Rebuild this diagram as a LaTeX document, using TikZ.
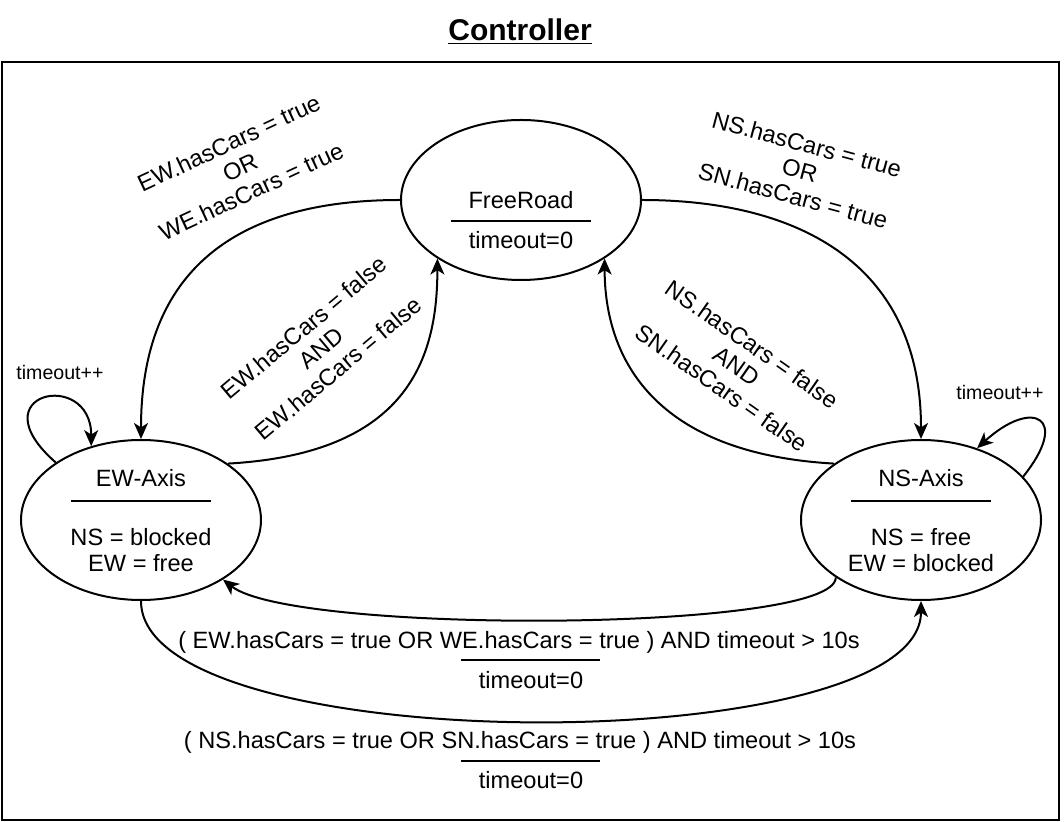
\documentclass[tikz,border=0pt]{standalone}
\usepackage{fontspec}
\setmainfont{Liberation Sans}
\usetikzlibrary{calc,arrows.meta,shapes}

\tikzset{
  state/.style={ellipse, draw, line width=1pt, minimum width=120pt, minimum height=80pt, inner sep=0pt},
  trans/.style={line width=1pt, ->},
  cond/.style={align=center},
  sepline/.style={line width=1pt},
  small/.style={font=\fontsize{9.8}{12}\selectfont}
}

\begin{document}
\begin{tikzpicture}[>={Stealth[length=8pt,width=7pt,inset=2.2pt]},  % arrow tip
                    x=0.5pt, y=-0.5pt,                              % pixel grid, y down
                    font=\fontsize{11.8}{13.3}\selectfont
                    ]
\useasboundingbox (0,0) rectangle (1064,822);

% title and frame
\node[font=\fontsize{15}{18}\selectfont\bfseries] (title) at (520,32) {\underline{Controller}};
\draw[line width=1.2pt] (2,62) rectangle (1059,820);

% FreeRoad
\node[state] (free) at (521,200) {};
\node (free-name) at (521,200) {FreeRoad};
\draw[sepline] (451,221) -- (591,221);
\node (free-act) at (521,240) {timeout=0};

% EW-Axis
\node[state] (ew) at (141,520) {};
\node (ew-name) at (141,478) {EW-Axis};
\draw[sepline] (71,501) -- (211,501);
\node[cond] (ew-act) at (141,550) {NS = blocked\\EW = free};

% NS-Axis
\node[state] (ns) at (921,520) {};
\node (ns-name) at (921,478) {NS-Axis};
\draw[sepline] (851,501) -- (991,501);
\node[cond] (ns-act) at (921,550) {NS = free\\EW = blocked};

% FreeRoad <-> EW-Axis
\draw[trans] (free.west) .. controls +(-150,0) and +(0,-180) .. (ew.north);
\node[cond, rotate=25] (to-ew) at (240,167) {EW.hasCars = true\\OR\\WE.hasCars = true};
\draw[trans] (ew.33) .. controls +(180,-10) and +(0,100) .. (free.215);
\node[cond, rotate=40] (ew-back) at (321,348) {EW.hasCars = false\\AND\\EW.hasCars = false};

% FreeRoad <-> NS-Axis
\draw[trans] (free.east) .. controls +(150,0) and +(0,-180) .. (ns.north);
\node[cond, rotate=-15] (to-ns) at (800,170) {NS.hasCars = true\\OR\\SN.hasCars = true};
\draw[trans] (ns.147) .. controls +(-180,-10) and +(0,100) .. (free.325);
\node[cond, rotate=-35] (ns-back) at (737,366) {NS.hasCars = false\\AND\\SN.hasCars = false};

% self loops
\draw[trans] (ew.146) .. controls +(-80,-70) and +(0,-78) .. (ew.124);
\node[small] (ew-tick) at (60,372) {timeout++};
\draw[trans] (ns.23) .. controls +(48,-60) and +(55,-50) .. (ns.52);
\node[small] (ns-tick) at (1000,392) {timeout++};

% NS-Axis -> EW-Axis
\draw[trans] (ns.214) .. controls +(0,55) and +(70,55) .. (ew.324);
\node (ns-ew) at (519,642) {( EW.hasCars = true OR WE.hasCars = true ) AND timeout > 10s};
\draw[sepline] (461,660) -- (600,660);
\node (ns-ew-act) at (531,680) {timeout=0};

% EW-Axis -> NS-Axis
\draw[trans] (ew.south) .. controls +(0,160) and +(0,160) .. (ns.south);
\node (ew-ns) at (520,742) {( NS.hasCars = true OR SN.hasCars = true ) AND timeout > 10s};
\draw[sepline] (461,761) -- (600,761);
\node (ew-ns-act) at (531,780) {timeout=0};

\end{tikzpicture}
\end{document}
